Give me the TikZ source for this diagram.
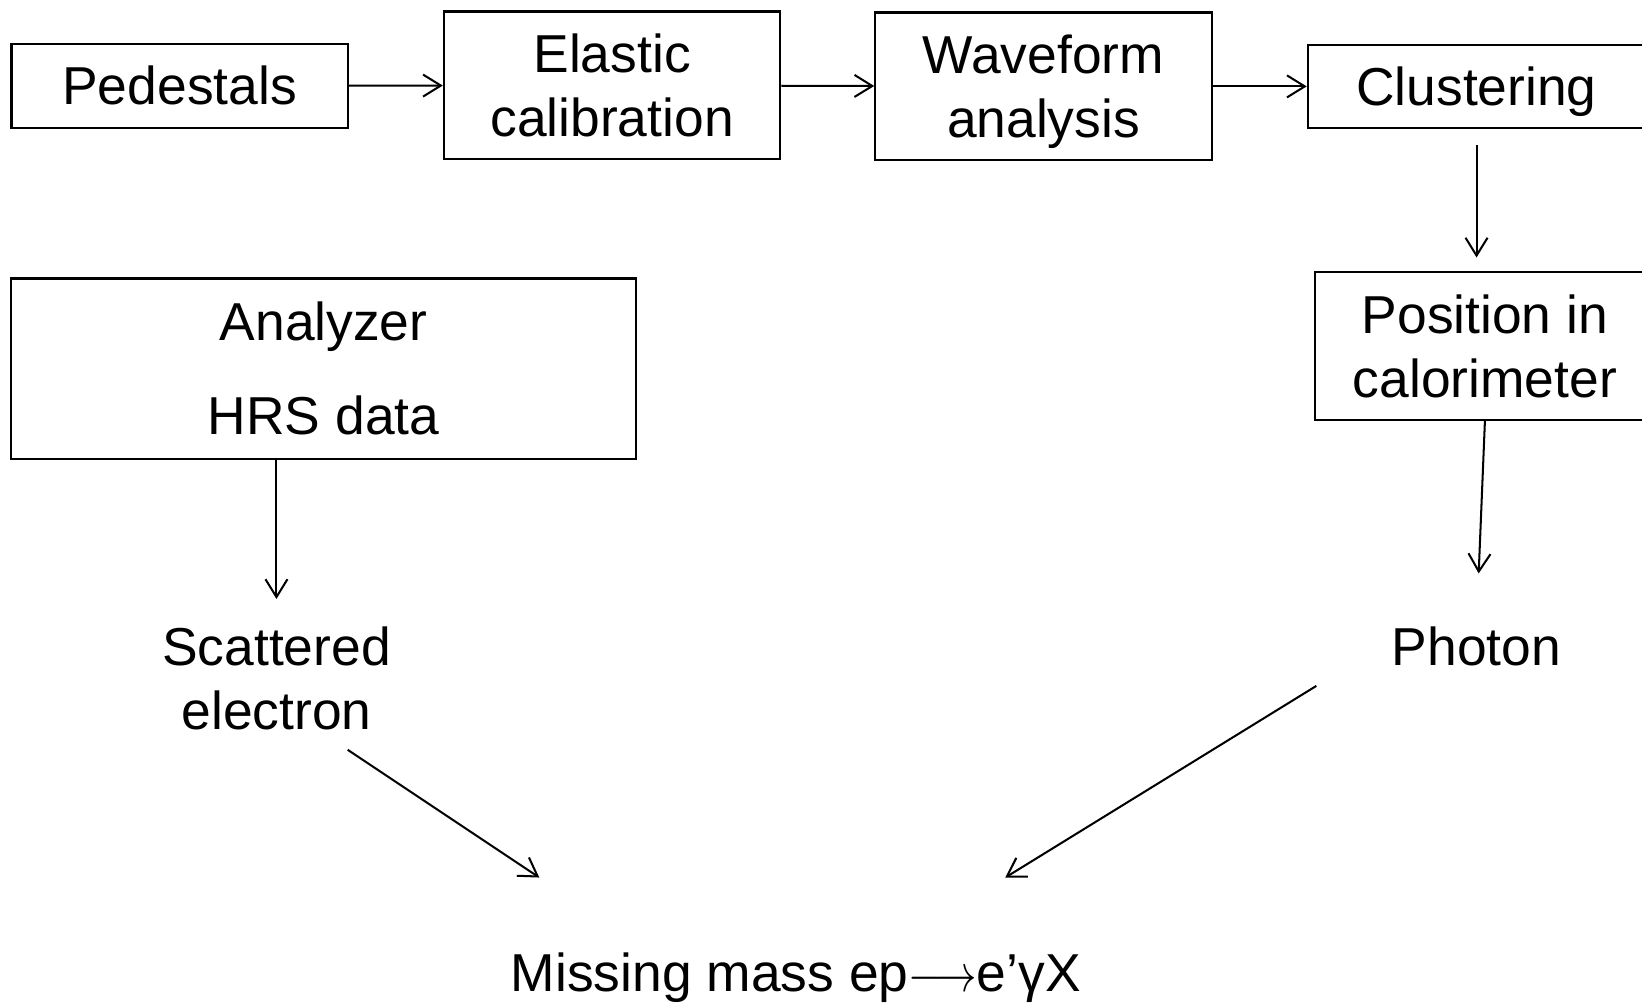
\documentclass[tikz,border=0pt]{standalone}
\usepackage{fontspec}
\setmainfont{Liberation Sans}
\usetikzlibrary{arrows.meta,positioning}

\begin{document}
\begin{tikzpicture}[x=0.01cm, y=-0.01cm,
  font=\fontsize{14.5}{17.4}\selectfont,
  box/.style={shape=rectangle, draw=black, line width=0.6pt, align=center, minimum width=3.21cm, inner sep=0pt},
  word/.style={align=center, inner sep=0pt},
  arr/.style={-{Straight Barb[length=1.7mm,width=2.1mm]}, line width=0.55pt}]
\useasboundingbox (0,0) rectangle (1568,957);
% top row
\node[box, minimum height=0.80cm](ped) at (171.5,82) {Pedestals};
\node[box, minimum height=1.41cm](ela) at (584.5,81.5) {Elastic\\calibration};
\node[box, minimum height=1.41cm, text depth=0pt](wav) at (996.5,82.5) {Waveform\\analysis};
\node[box, minimum height=0.79cm, minimum width=3.22cm, text depth=0pt](clus) at (1410,82.5) {Clustering};
% right column
\node[box, minimum height=1.41cm, minimum width=3.24cm](pos) at (1418,330.5) {Position in\\calorimeter};
\node[word](phot) at (1410,617) {Photon};
% left column
\node[box, minimum height=1.72cm, minimum width=5.96cm](ana) at (309,352) {Analyzer\\[0.29cm]HRS data};
\node[word](scat) at (264,648) {Scattered\\electron};
% result
\node[word](miss) at (760,934) {Missing mass ep\scalebox{0.8}[1]{$\longrightarrow$}e’γX};
\coordinate (scat-tail) at (332,716);
\coordinate (miss-left) at (515,838);
\coordinate (phot-tail) at (1257,655);
\coordinate (miss-right) at (960,838);

\draw[arr] (ped) -- (ela);
\draw[arr] (ela) -- (wav);
\draw[arr] (wav) -- (clus);
\draw[arr, shorten <=0.15cm, shorten >=0.13cm] (clus.south) -- (clus.south |- pos.north);
\draw[arr, shorten >=0.5cm] (pos.south) -- (phot.north);
\draw[arr, shorten >=0.26cm] (scat.north |- ana.south) -- (scat.north);
\draw[arr] (scat-tail) -- (miss-left);
\draw[arr] (phot-tail) -- (miss-right);
\end{tikzpicture}
\end{document}
